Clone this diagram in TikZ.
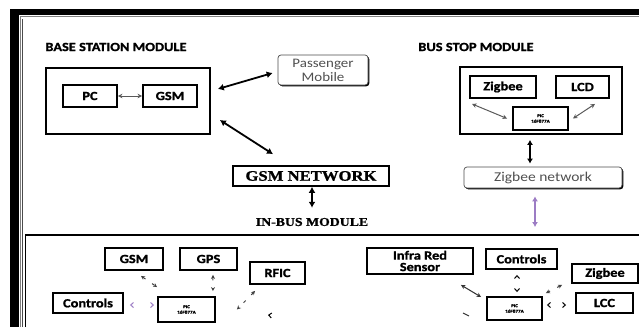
\documentclass[tikz,border=0pt]{standalone}
\usepackage{fontspec}
\setmainfont{Carlito}[FakeStretch=1.15, BoldFeatures={FakeBold=1.2}]
\newfontfamily\serifb{Liberation Serif}[FakeStretch=1.15, BoldFeatures={FakeBold=1}]
\usetikzlibrary{arrows.meta,shadows}
\definecolor{purp}{HTML}{9C7CC4}
\definecolor{txtgray}{HTML}{505050}
\tikzset{
  box/.style={draw, line width=1.9pt, fill=white, inner sep=0pt, align=center,
    font=\fontsize{12.5}{12}\selectfont\bfseries},
  bigbox/.style={draw, line width=1.7pt, inner sep=0pt},
  picbox/.style={box, font=\fontsize{4.5}{5.5}\selectfont\bfseries},
  rbox/.style={draw=black!70, line width=0.7pt, rounded corners=3pt, fill=white,
    text=txtgray, inner sep=0pt, align=center,
    general shadow={shadow xshift=1.3pt, shadow yshift=-1.3pt, fill=black, rounded corners=3pt}},
  hdr/.style={inner sep=0pt, font=\fontsize{12.5}{13}\selectfont\bfseries},
  serifhdr/.style={inner sep=0pt, font=\serifb\fontsize{12}{13}\selectfont\bfseries},
  bigarrow/.style={line width=1.8pt, {Latex[length=6pt,width=7pt]}-{Latex[length=6pt,width=7pt]}},
  medarrow/.style={line width=1.3pt, {Latex[length=5pt,width=6pt]}-{Latex[length=5pt,width=6pt]}},
  thinarrow/.style={line width=1pt, black!65, {Stealth[length=4.5pt,width=4.5pt]}-{Stealth[length=4.5pt,width=4.5pt]}},
  brk/.style={line width=1pt, black!75, dash pattern=on 3pt off 8pt,
    {Stealth[length=4pt,width=4pt]}-{Stealth[length=4pt,width=4pt]}},
  tipsonly/.style={line width=1pt, line cap=butt, dash pattern=on 0pt off 300pt,
    {Straight Barb[length=2.8pt,width=5pt]}-{Straight Barb[length=2.8pt,width=5pt]}}
}
\begin{document}
\begin{tikzpicture}[x=1pt,y=-1pt]
\useasboundingbox (0,0) rectangle (639,327);
% outer frame
\fill[black] (10,9) rectangle (639,15);
\fill[black] (10,9) rectangle (19,327);
\draw[gray, line width=0.8pt] (20.5,327) -- (20.5,16.5) -- (639,16.5);
\draw[black!70, line width=0.6pt] (22.5,327) -- (22.5,18.5);
% in-bus module frame
\draw[line width=1.5pt] (25.5,327) -- (25.5,235) -- (639,235);

% headers
\node[hdr] (hbase) at (116,47) {BASE STATION MODULE};
\node[hdr] (hbus) at (476,47) {BUS STOP MODULE};
\node[serifhdr] (inbus) at (312,222) {IN-BUS MODULE};

% base station
\node[bigbox, minimum width=164pt, minimum height=66pt] (base) at (128,101) {};
\node[box, minimum width=54pt, minimum height=22pt] (pc) at (90,96) {PC};
\node[box, minimum width=54pt, minimum height=22pt] (gsm) at (170,96) {GSM};
\draw[thinarrow] (pc) -- (gsm);

\node[rbox, minimum width=90pt, minimum height=30pt,
  font=\fontsize{13}{14}\selectfont] (pass) at (323,70) {Passenger\\Mobile};
\node[box, line width=1.7pt, minimum width=156pt, minimum height=20pt,
  font=\serifb\fontsize{14.5}{15}\selectfont\bfseries] (gsmnet) at (311,176) {GSM NETWORK};

\draw[bigarrow] ([shift={(7pt,12pt)}]base.east) -- ([shift={(-5pt,-3pt)}]pass.west);
\draw[bigarrow] ([shift={(9pt,-19pt)}]base.east) -- ([shift={(-38pt,11pt)}]gsmnet.north);
\draw[bigarrow] ([xshift=1pt]gsmnet.south) -- ([yshift=10pt]inbus.north);

% bus stop
\node[bigbox, minimum width=162pt, minimum height=67pt] (busstop) at (541,100.5) {};
\node[box, minimum width=66pt, minimum height=22pt] (zig1) at (503,87) {Zigbee};
\node[box, minimum width=53pt, minimum height=22pt] (lcd1) at (582.5,87) {LCD};
\node[picbox, minimum width=55pt, minimum height=23pt] (pic1) at (540.5,118.5) {PIC\\16F877A};
\draw[thinarrow] ([shift={(3pt,-5pt)}]zig1.south west) -- ([xshift=-5pt]pic1.west);
\draw[thinarrow] ([shift={(12.5pt,-5pt)}]lcd1.south) -- ([xshift=4pt]pic1.east);

\node[rbox, minimum width=158pt, minimum height=21pt,
  font=\fontsize{13.5}{14}\selectfont] (zbnet) at (543,177.5) {Zigbee network};
\draw[medarrow] ([shift={(-11pt,-5pt)}]busstop.south) -- ([shift={(-13pt,3pt)}]zbnet.north);
\coordinate (inbustop) at (535,235);
\draw[medarrow, purp, line width=1.6pt] ([shift={(-8pt,-8pt)}]zbnet.south) -- ([yshift=8pt]inbustop);

% in-bus left group
\node[box, minimum width=58pt, minimum height=22pt] (gsm2) at (134,259) {GSM};
\node[box, minimum width=57pt, minimum height=22pt] (gps2) at (208.5,259) {GPS};
\node[box, minimum width=55pt, minimum height=22pt] (rfic) at (277.5,273) {RFIC};
\node[box, minimum width=70pt, minimum height=20pt] (ctrl2) at (88,303) {Controls};
\node[picbox, minimum width=57pt, minimum height=25pt] (pic2) at (186.5,309.5) {PIC\\16F877A};

\draw[tipsonly, purp] ([shift={(6pt,-2pt)}]ctrl2.east) -- ([shift={(-3pt,4.5pt)}]pic2.west);
\draw[brk] ([shift={(7pt,-5pt)}]gsm2.south) -- ([yshift=9pt]pic2.north west);
\draw[brk] ([shift={(4.5pt,-4pt)}]gps2.south) -- ([shift={(-3pt,5pt)}]pic2.north east);
\draw[brk] ([shift={(6pt,-6pt)}]rfic.south west) -- ([xshift=21pt]pic2.east);
\coordinate (strayA) at (276,316);
\coordinate (strayB) at (268,315);
\draw[line width=1pt, line cap=butt, dash pattern=on 0pt off 300pt,
  -{Straight Barb[length=2.8pt,width=5pt]}] (strayA) -- (strayB);

% in-bus right group
\node[box, minimum width=106pt, minimum height=26pt,
  font=\fontsize{12.5}{11.5}\selectfont\bfseries] (ir) at (420,261) {Infra Red\\Sensor};
\node[box, minimum width=71pt, minimum height=20pt] (ctrl3) at (521.5,259) {Controls};
\node[box, minimum width=66pt, minimum height=19pt] (zig3) at (605,273.5) {Zigbee};
\node[box, minimum width=57pt, minimum height=20pt] (lcc) at (604.5,303) {LCC};
\node[picbox, minimum width=55pt, minimum height=23pt] (pic3) at (514.5,308.5) {PIC\\16F877A};

\draw[thinarrow, black!80] ([shift={(-13pt,-10pt)}]ir.south east) -- ([shift={(-5pt,11.5pt)}]pic3.west);
\coordinate (strayC) at (463,313);
\coordinate (strayD) at (469,316);
\draw[line width=1pt, black!80] (strayC) -- (strayD);
\draw[tipsonly] ([shift={(-4.5pt,-5pt)}]ctrl3.south) -- ([shift={(2.5pt,4pt)}]pic3.north);
\draw[brk] ([shift={(-9pt,-1pt)}]zig3.south west) -- ([shift={(3pt,3pt)}]pic3.north east);
\draw[tipsonly] ([shift={(4pt,3.5pt)}]pic3.east) -- ([shift={(-9pt,-2pt)}]lcc.west);
\end{tikzpicture}
\end{document}
